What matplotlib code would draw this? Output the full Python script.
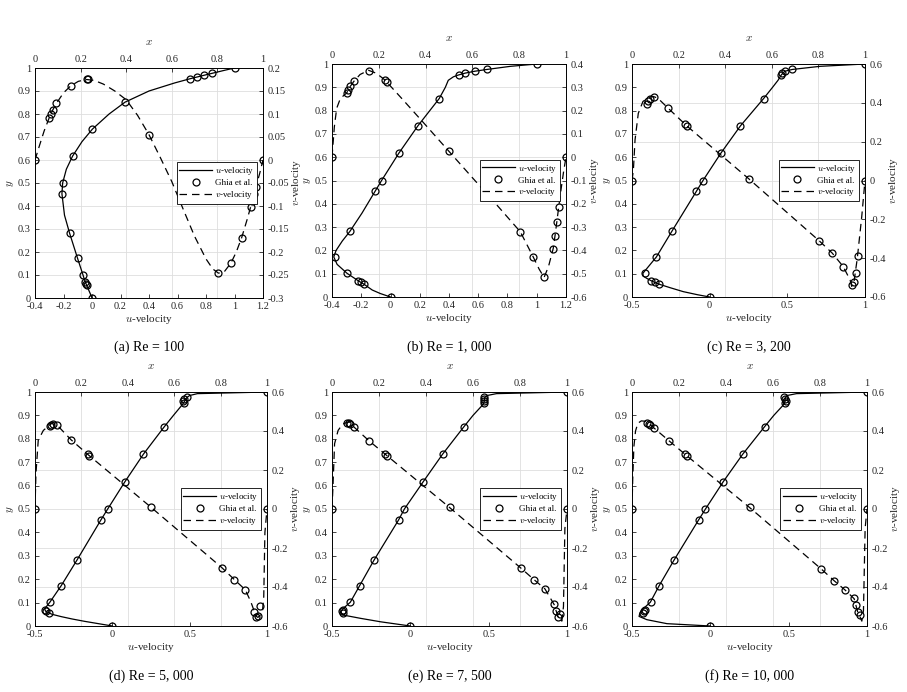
import matplotlib
matplotlib.use('Agg')
import matplotlib.pyplot as plt
from matplotlib.ticker import FixedLocator, FuncFormatter
from matplotlib.lines import Line2D

plt.rcParams['font.family'] = ['Liberation Serif', 'DejaVu Serif']
plt.rcParams['mathtext.fontset'] = 'cm'
plt.rcParams['axes.unicode_minus'] = False

# ---------------- data ----------------
captions = ['(a) Re = 100', '(b) Re = 1, 000', '(c) Re = 3, 200',
            '(d) Re = 5, 000', '(e) Re = 7, 500', '(f) Re = 10, 000']

# Ghia et al. sample locations
ghia_y = [1.0000, 0.9766, 0.9688, 0.9609, 0.9531, 0.8516, 0.7344, 0.6172, 0.5000,
          0.4531, 0.2813, 0.1719, 0.1016, 0.0703, 0.0625, 0.0547, 0.0000]
ghia_x = [1.0000, 0.9688, 0.9609, 0.9531, 0.9453, 0.9063, 0.8594, 0.8047, 0.5000,
          0.2344, 0.2266, 0.1563, 0.0938, 0.0781, 0.0703, 0.0625, 0.0000]

ghia_u_100 = [1.0, 0.84123, 0.78871, 0.73722, 0.68717, 0.23151, 0.00332, -0.13641, -0.20581,
              -0.21090, -0.15662, -0.10150, -0.06434, -0.04775, -0.04192, -0.03717, 0.0]
ghia_u_1000 = [1.0, 0.65928, 0.57492, 0.51117, 0.46604, 0.33304, 0.18719, 0.05702, -0.06080,
               -0.10648, -0.27805, -0.38289, -0.29730, -0.22220, -0.20196, -0.18109, 0.0]
ghia_u_3200 = [1.0, 0.53236, 0.48296, 0.46547, 0.46101, 0.34682, 0.19791, 0.07156, -0.04272,
               -0.08636, -0.24427, -0.34323, -0.41933, -0.37827, -0.35344, -0.32407, 0.0]
ghia_u_5000 = [1.0, 0.48223, 0.46120, 0.45992, 0.46036, 0.33556, 0.20087, 0.08183, -0.03039,
               -0.07404, -0.22855, -0.33050, -0.40435, -0.43643, -0.42901, -0.41165, 0.0]
ghia_u_7500 = [1.0, 0.47244, 0.47048, 0.47323, 0.47167, 0.34228, 0.20591, 0.08342, -0.03800,
               -0.07503, -0.23176, -0.32393, -0.38324, -0.43025, -0.43590, -0.43154, 0.0]
ghia_u_10000 = [1.0, 0.47221, 0.47783, 0.48070, 0.47804, 0.34635, 0.20673, 0.08344, -0.03111,
                -0.07540, -0.23186, -0.32709, -0.38000, -0.41657, -0.42537, -0.42735, 0.0]

ghia_v_100 = [0.0, -0.05906, -0.07391, -0.08864, -0.10313, -0.16914, -0.22445, -0.24533, 0.05454,
              0.17527, 0.17507, 0.16077, 0.12317, 0.10890, 0.10091, 0.09233, 0.0]
ghia_v_1000 = [0.0, -0.21388, -0.27669, -0.33714, -0.39188, -0.51550, -0.42665, -0.31966, 0.02526,
               0.32235, 0.33075, 0.37095, 0.32627, 0.30353, 0.29012, 0.27485, 0.0]
ghia_v_3200 = [0.0, -0.39017, -0.47425, -0.52357, -0.54053, -0.44307, -0.37401, -0.31184, 0.00999,
               0.28188, 0.29030, 0.37119, 0.42768, 0.41906, 0.40917, 0.39560, 0.0]
ghia_v_5000 = [0.0, -0.49774, -0.55069, -0.55408, -0.52876, -0.41442, -0.36214, -0.30018, 0.00945,
               0.27280, 0.28066, 0.35368, 0.42951, 0.43648, 0.43329, 0.42447, 0.0]
ghia_v_7500 = [0.0, -0.53858, -0.55216, -0.52347, -0.48590, -0.41050, -0.36213, -0.30448, 0.00824,
               0.27348, 0.28117, 0.35060, 0.41824, 0.43564, 0.44030, 0.43979, 0.0]
ghia_v_10000 = [0.0, -0.54302, -0.52987, -0.49099, -0.45863, -0.41496, -0.36737, -0.30719, 0.00831,
                0.27224, 0.28003, 0.35070, 0.41487, 0.43124, 0.43733, 0.43983, 0.0]

# present solution: u along vertical centreline (y, u)
cy_100 = [0, 0.02, 0.04, 0.0547, 0.0703, 0.1016, 0.1719, 0.2813, 0.36, 0.4531, 0.5, 0.56, 0.6172,
          0.68, 0.7344, 0.8, 0.8516, 0.9, 0.935, 0.9531, 0.9688, 0.9766, 0.99, 1.0]
cu_100 = [0, -0.013, -0.027, -0.037, -0.048, -0.064, -0.101, -0.157, -0.193, -0.211, -0.206, -0.18,
          -0.136, -0.07, 0.003, 0.12, 0.232, 0.40, 0.58, 0.687, 0.789, 0.841, 0.93, 1.0]
cy_1000 = [0, 0.015, 0.03, 0.0547, 0.0625, 0.0703, 0.1016, 0.14, 0.1719, 0.2, 0.24, 0.2813, 0.36,
           0.4531, 0.5, 0.6172, 0.7344, 0.8516, 0.9, 0.93, 0.945, 0.9531, 0.9609, 0.9688, 0.9766,
           0.99, 1.0]
cu_1000 = [0, -0.07, -0.125, -0.181, -0.202, -0.222, -0.297, -0.365, -0.388, -0.372, -0.33, -0.278,
           -0.195, -0.106, -0.061, 0.057, 0.187, 0.333, 0.375, 0.395, 0.43, 0.466, 0.511, 0.575,
           0.659, 0.82, 1.0]
cy_3200 = [0, 0.01, 0.023, 0.04, 0.0547, 0.0625, 0.0703, 0.08, 0.09, 0.1016, 0.1719, 0.2813,
           0.4531, 0.5, 0.6172, 0.7344, 0.8516, 0.9, 0.93, 0.9531, 0.9688, 0.9766, 0.99, 1.0]
cu_3200 = [0, -0.08, -0.17, -0.255, -0.324, -0.353, -0.378, -0.405, -0.428, -0.43, -0.343, -0.244,
           -0.086, -0.043, 0.072, 0.198, 0.347, 0.405, 0.44, 0.461, 0.483, 0.532, 0.71, 1.0]
cy_5000 = [0, 0.01, 0.02, 0.03, 0.04, 0.05, 0.0625, 0.0703, 0.08, 0.1016, 0.1719, 0.2813, 0.4531,
           0.5, 0.6172, 0.7344, 0.8516, 0.9, 0.94, 0.9531, 0.9766, 0.985, 0.993, 1.0]
cu_5000 = [0, -0.09, -0.18, -0.26, -0.33, -0.39, -0.43, -0.437, -0.43, -0.404, -0.331, -0.229,
           -0.074, -0.030, 0.082, 0.201, 0.336, 0.395, 0.445, 0.46, 0.482, 0.50, 0.55, 1.0]
cy_7500 = [0, 0.018, 0.033, 0.047, 0.0547, 0.0625, 0.0703, 0.08, 0.1016, 0.1719, 0.2813, 0.4531,
           0.5, 0.6172, 0.7344, 0.8516, 0.9, 0.94, 0.9531, 0.9766, 0.985, 0.993, 1.0]
cu_7500 = [0, -0.19, -0.32, -0.43, -0.44, -0.442, -0.435, -0.42, -0.383, -0.324, -0.232, -0.075,
           -0.038, 0.083, 0.206, 0.342, 0.40, 0.455, 0.47, 0.475, 0.49, 0.55, 1.0]
cy_10000 = [0, 0.01, 0.027, 0.041, 0.0547, 0.0703, 0.085, 0.1016, 0.1719, 0.2813, 0.4531, 0.5,
            0.6172, 0.7344, 0.8516, 0.9, 0.94, 0.9531, 0.9766, 0.985, 0.993, 1.0]
cu_10000 = [0, -0.277, -0.405, -0.455, -0.45, -0.43, -0.41, -0.383, -0.327, -0.232, -0.075,
            -0.031, 0.083, 0.207, 0.346, 0.405, 0.46, 0.475, 0.478, 0.49, 0.55, 1.0]

# present solution: v along horizontal centreline (x, v)
cx_100 = [0, 0.02, 0.04, 0.0625, 0.0781, 0.0938, 0.125, 0.1563, 0.19, 0.2266, 0.26, 0.3, 0.35,
          0.4, 0.45, 0.5, 0.55, 0.6, 0.65, 0.7, 0.75, 0.78, 0.8047, 0.83, 0.8594, 0.8828, 0.9063,
          0.93, 0.9453, 0.9609, 0.9688, 0.985, 1.0]
cv_100 = [0, 0.032, 0.063, 0.092, 0.109, 0.123, 0.146, 0.161, 0.171, 0.175, 0.173, 0.165, 0.150,
          0.131, 0.097, 0.055, 0.005, -0.047, -0.107, -0.166, -0.215, -0.237, -0.246, -0.243,
          -0.224, -0.2, -0.169, -0.13, -0.103, -0.074, -0.059, -0.03, 0]
cx_1000 = [0, 0.01, 0.02, 0.035, 0.05, 0.0625, 0.0703, 0.0781, 0.0938, 0.12, 0.1563, 0.19, 0.2266,
           0.2344, 0.3, 0.4, 0.5, 0.6, 0.7, 0.8047, 0.8594, 0.885, 0.9063, 0.925, 0.9453, 0.9531,
           0.9609, 0.9688, 0.98, 0.99, 1.0]
cv_1000 = [0, 0.13, 0.21, 0.25, 0.265, 0.275, 0.29, 0.304, 0.326, 0.355, 0.373, 0.36, 0.331, 0.322,
           0.25, 0.138, 0.025, -0.088, -0.2, -0.32, -0.427, -0.48, -0.516, -0.47, -0.392, -0.337,
           -0.277, -0.214, -0.13, -0.06, 0]
cx_3200 = [0, 0.006, 0.013, 0.027, 0.047, 0.0625, 0.0781, 0.09, 0.11, 0.1563, 0.2344, 0.5, 0.8047,
           0.8594, 0.9063, 0.936, 0.943, 0.953, 0.967, 0.986, 1.0]
cv_3200 = [0, 0.054, 0.209, 0.346, 0.407, 0.42, 0.43, 0.433, 0.425, 0.371, 0.282, 0.010, -0.312,
           -0.374, -0.443, -0.512, -0.545, -0.52, -0.40, -0.186, 0]
cx_5000 = [0, 0.004, 0.014, 0.036, 0.0625, 0.079, 0.0938, 0.1563, 0.2344, 0.5, 0.8047, 0.8594,
           0.9063, 0.93, 0.9453, 0.9531, 0.9609, 0.97, 0.98, 0.986, 0.991, 1.0]
cv_5000 = [0, 0.18, 0.353, 0.403, 0.43, 0.445, 0.432, 0.354, 0.273, 0.009, -0.300, -0.362, -0.414,
           -0.475, -0.525, -0.55, -0.556, -0.545, -0.53, -0.45, -0.12, 0]
cx_7500 = [0, 0.004, 0.011, 0.026, 0.045, 0.0625, 0.075, 0.0938, 0.1563, 0.2344, 0.5, 0.8047,
           0.8594, 0.9063, 0.9453, 0.9609, 0.9688, 0.978, 0.985, 0.991, 1.0]
cv_7500 = [0, 0.113, 0.335, 0.403, 0.435, 0.444, 0.446, 0.42, 0.351, 0.273, 0.008, -0.304, -0.362,
           -0.41, -0.49, -0.55, -0.555, -0.575, -0.5, -0.1, 0]
cx_10000 = [0, 0.003, 0.008, 0.015, 0.025, 0.04, 0.055, 0.0703, 0.0938, 0.1563, 0.2344, 0.5,
            0.8047, 0.8594, 0.9063, 0.9453, 0.9609, 0.9688, 0.978, 0.985, 0.992, 1.0]
cv_10000 = [0, 0.15, 0.32, 0.40, 0.44, 0.452, 0.45, 0.44, 0.415, 0.351, 0.272, 0.008, -0.307,
            -0.367, -0.415, -0.46, -0.53, -0.548, -0.575, -0.52, -0.1, 0]

u_ticks_wide = [-0.4, -0.2, 0, 0.2, 0.4, 0.6, 0.8, 1.0, 1.2]
u_ticks_narrow = [-0.5, 0, 0.5, 1.0]
v_ticks_100 = [-0.3, -0.25, -0.2, -0.15, -0.1, -0.05, 0, 0.05, 0.1, 0.15, 0.2]
v_ticks_1000 = [-0.6, -0.5, -0.4, -0.3, -0.2, -0.1, 0, 0.1, 0.2, 0.3, 0.4]
v_ticks_high = [-0.6, -0.4, -0.2, 0, 0.2, 0.4, 0.6]
pos_ticks = [0, 0.1, 0.2, 0.3, 0.4, 0.5, 0.6, 0.7, 0.8, 0.9, 1.0]
top_ticks = [0, 0.2, 0.4, 0.6, 0.8, 1.0]

panels = [
    (ghia_u_100, ghia_v_100, cy_100, cu_100, cx_100, cv_100, u_ticks_wide, v_ticks_100),
    (ghia_u_1000, ghia_v_1000, cy_1000, cu_1000, cx_1000, cv_1000, u_ticks_wide, v_ticks_1000),
    (ghia_u_3200, ghia_v_3200, cy_3200, cu_3200, cx_3200, cv_3200, u_ticks_narrow, v_ticks_high),
    (ghia_u_5000, ghia_v_5000, cy_5000, cu_5000, cx_5000, cv_5000, u_ticks_narrow, v_ticks_high),
    (ghia_u_7500, ghia_v_7500, cy_7500, cu_7500, cx_7500, cv_7500, u_ticks_narrow, v_ticks_high),
    (ghia_u_10000, ghia_v_10000, cy_10000, cu_10000, cx_10000, cv_10000, u_ticks_narrow, v_ticks_high),
]

# ---------------- layout ----------------
W, H = 907, 692
fig = plt.figure(figsize=(W / 100, H / 100), dpi=100)
rects_px = [(35, 68, 263, 298), (332, 64, 566, 297), (632, 64, 865, 297),
            (35, 392, 267, 626), (332, 392, 567, 626), (632, 392, 867, 626)]
caption_y = [347, 347, 347, 676, 676, 676]

TXT = '#262626'
fmt = FuncFormatter(lambda v, p: '%g' % round(v, 4))
lw = 0.9

for i, (gu, gv, cy, cu, cx, cv, uticks, vticks) in enumerate(panels):
    l, t, r, b = rects_px[i]
    rect = [l / W, 1 - b / H, (r - l) / W, (b - t) / H]

    # v-velocity axes (top x / right v), drawn underneath
    ax2 = fig.add_axes(rect, zorder=0)
    ax2.set_facecolor('white')
    ax2.plot(cx, cv, color='k', lw=lw, linestyle=(0, (6, 4)))
    ax2.plot(ghia_x, gv, 'o', color='k', mfc='none', ms=5, mew=0.9)
    ax2.set_xlim(0, 1)
    ax2.set_ylim(vticks[0], vticks[-1])
    ax2.xaxis.set_major_locator(FixedLocator(top_ticks))
    ax2.yaxis.set_major_locator(FixedLocator(vticks))
    ax2.xaxis.set_major_formatter(fmt)
    ax2.yaxis.set_major_formatter(fmt)
    ax2.xaxis.tick_top()
    ax2.yaxis.tick_right()
    ax2.xaxis.set_label_position('top')
    ax2.yaxis.set_label_position('right')
    ax2.set_xlabel('$x$', fontsize=8, color=TXT, labelpad=7)
    ax2.set_ylabel('$v$-velocity', fontsize=8, color=TXT, labelpad=1)
    ax2.grid(True, color='#dedede', lw=0.6)
    ax2.tick_params(direction='in', length=3, width=0.6, labelsize=7.5, colors=TXT, pad=3)
    for s in ax2.spines.values():
        s.set_visible(False)

    # u-velocity axes (bottom u / left y), on top
    ax = fig.add_axes(rect, zorder=1)
    ax.patch.set_alpha(0)
    ax.plot(cu, cy, color='k', lw=lw)
    ax.plot(gu, ghia_y, 'o', color='k', mfc='none', ms=5, mew=0.9)
    ax.set_xlim(uticks[0], uticks[-1])
    ax.set_ylim(0, 1)
    ax.xaxis.set_major_locator(FixedLocator(uticks))
    ax.yaxis.set_major_locator(FixedLocator(pos_ticks))
    ax.xaxis.set_major_formatter(fmt)
    ax.yaxis.set_major_formatter(fmt)
    ax.set_xlabel('$u$-velocity', fontsize=8, color=TXT, labelpad=1)
    ax.set_ylabel('$y$', fontsize=8, color=TXT, labelpad=1)
    ax.tick_params(direction='in', length=3, width=0.6, labelsize=7.5, colors=TXT, pad=3)
    for s in ax.spines.values():
        s.set_linewidth(0.7)
        s.set_color('k')

    handles = [Line2D([], [], color='k', lw=lw),
               Line2D([], [], color='k', marker='o', ls='none', mfc='none', ms=5, mew=0.9),
               Line2D([], [], color='k', lw=lw, linestyle=(0, (6, 4)))]
    labels = ['$u$-velocity', 'Ghia et al.', '$v$-velocity']
    leg = ax.legend(handles, labels, loc='center right', bbox_to_anchor=(0.975, 0.5),
                    fontsize=6.5, frameon=True, fancybox=False, edgecolor='k', framealpha=1,
                    handlelength=3.6, borderpad=0.3, labelspacing=0.2, handletextpad=0.4,
                    borderaxespad=0)
    leg.get_frame().set_linewidth(0.6)

    fig.text((l + r) / 2 / W, 1 - caption_y[i] / H, captions[i], ha='center', va='center',
             fontsize=10, color='k')

fig.savefig('out.png', dpi=100)
